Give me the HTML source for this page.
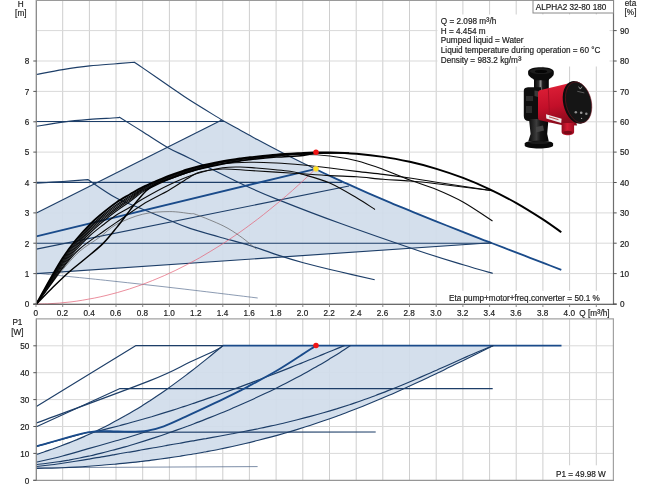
<!DOCTYPE html>
<html lang="en"><head><meta charset="utf-8"><title>ALPHA2 32-80 180</title>
<style>html,body{margin:0;padding:0;background:#fff}body{width:650px;height:487px;overflow:hidden}svg{display:block}text{font-family:"Liberation Sans",Arial,sans-serif;font-size:8.2px;fill:#1c1c1c;stroke:#1c1c1c;stroke-width:0.18px}</style></head><body>
<svg width="650" height="487" viewBox="0 0 650 487">
<rect width="650" height="487" fill="#fff"/>
<path d="M62.7 0V304M89.4 0V304M116 0V304M142.7 0V304M169.4 0V304M196.1 0V304M222.8 0V304M249.4 0V304M276.1 0V304M302.8 0V304M329.5 0V304M356.2 0V304M382.8 0V304M409.5 0V304M436.2 0V304M462.9 0V304M489.6 0V304M516.2 0V304M542.9 0V304M569.6 0V304M596.3 0V304" stroke="#cecece" stroke-width="1" fill="none"/>
<path d="M36.5 273.6H613.5M36.5 243.2H613.5M36.5 212.9H613.5M36.5 182.5H613.5M36.5 152.1H613.5M36.5 121.8H613.5M36.5 91.4H613.5M36.5 61H613.5M36.5 30.6H613.5" stroke="#d9d9d9" stroke-width="1" fill="none"/>
<path d="M62.7 319V480.3M89.4 319V480.3M116 319V480.3M142.7 319V480.3M169.4 319V480.3M196.1 319V480.3M222.8 319V480.3M249.4 319V480.3M276.1 319V480.3M302.8 319V480.3M329.5 319V480.3M356.2 319V480.3M382.8 319V480.3M409.5 319V480.3M436.2 319V480.3M462.9 319V480.3M489.6 319V480.3M516.2 319V480.3M542.9 319V480.3M569.6 319V480.3M596.3 319V480.3" stroke="#cecece" stroke-width="1" fill="none"/>
<path d="M36.5 453.4H613.5M36.5 426.5H613.5M36.5 399.6H613.5M36.5 372.7H613.5M36.5 345.8H613.5" stroke="#d9d9d9" stroke-width="1" fill="none"/>
<path d="M36.4 212.9 L221.8 119.9 L221.8 119.9 C224 121.1 229.1 124 235 127.3 C240.9 130.5 249.8 135.6 257.3 139.6 C264.7 143.6 272.1 147.5 279.5 151.3 C287 155.1 294.4 158.8 301.8 162.5 C309.2 166.1 316.7 169.7 324.1 173.2 C331.5 176.7 338.9 180.1 346.4 183.4 C353.8 186.8 361.2 190.1 368.6 193.3 C376.1 196.5 383.5 199.7 390.9 202.8 C398.3 206 405.8 209 413.2 212.1 C420.6 215.1 428 218.1 435.5 221.1 C442.9 224 450.3 227 457.7 229.9 C465.2 232.8 474.4 236.4 480 238.6 C485.6 240.7 489.6 242.3 491.5 243 L36.4 273.6Z" fill="#d0dcea" fill-opacity="0.92" stroke="none"/>
<path d="M36.4 454.5 C37.8 454.1 41.8 452.7 44.5 451.8 C47.2 450.9 49.9 449.9 52.6 449 C55.3 448 58 447 60.7 446 C63.4 445 66.1 444 68.9 442.9 C71.6 441.8 74.3 440.7 77 439.6 C79.7 438.4 82.4 437.3 85.1 436.1 C87.8 434.9 90.5 433.7 93.2 432.4 C95.9 431.1 98.6 429.8 101.3 428.5 C104 427.2 106.7 425.8 109.4 424.4 C112.1 423 114.8 421.6 117.5 420.1 C120.2 418.6 122.9 417.1 125.6 415.6 C128.3 414 131.1 412.4 133.8 410.8 C136.5 409.2 139.2 407.6 141.9 405.9 C144.6 404.2 147.3 402.4 150 400.7 C152.7 398.9 155.4 397.1 158.1 395.3 C160.8 393.5 163.5 391.6 166.2 389.7 C168.9 387.8 171.6 385.9 174.3 383.9 C177 381.9 179.7 379.9 182.4 377.9 C185.1 375.9 187.8 373.8 190.5 371.8 C193.3 369.7 196 367.6 198.7 365.4 C201.4 363.3 204.1 361.1 206.8 358.9 C209.5 356.8 212.2 354.6 214.9 352.3 C217.6 350.1 221.6 346.7 223 345.6 L493.5 345.6 L493.5 345.6 C491.3 346.7 484.8 349.9 480.4 352 C476.1 354.1 471.7 356.3 467.4 358.4 C463 360.6 458.7 362.7 454.3 364.8 C450 367 445.6 369.1 441.3 371.2 C436.9 373.3 432.6 375.4 428.2 377.4 C423.8 379.5 419.5 381.5 415.1 383.5 C410.8 385.5 406.4 387.5 402.1 389.5 C397.7 391.4 393.4 393.4 389 395.3 C384.7 397.1 380.3 399 376 400.8 C371.6 402.6 367.3 404.4 362.9 406.2 C358.5 407.9 354.2 409.6 349.8 411.3 C345.5 413 341.1 414.6 336.8 416.2 C332.4 417.8 328.1 419.3 323.7 420.8 C319.4 422.3 315 423.8 310.7 425.2 C306.3 426.6 302 428 297.6 429.4 C293.2 430.7 288.9 432 284.5 433.3 C280.2 434.5 275.8 435.7 271.5 436.9 C267.1 438.1 262.8 439.2 258.4 440.3 C254.1 441.4 249.7 442.5 245.4 443.5 C241 444.5 236.7 445.5 232.3 446.5 C227.9 447.4 223.6 448.3 219.2 449.2 C214.9 450.1 210.5 450.9 206.2 451.7 C201.8 452.5 197.5 453.3 193.1 454 C188.8 454.8 184.4 455.5 180.1 456.2 C175.7 456.9 171.4 457.5 167 458.1 C162.6 458.7 158.3 459.3 153.9 459.9 C149.6 460.5 145.2 461 140.9 461.5 C136.5 462 132.2 462.5 127.8 462.9 C123.5 463.4 119.1 463.8 114.8 464.2 C110.4 464.6 106.1 465 101.7 465.3 C97.3 465.6 93 466 88.6 466.3 C84.3 466.6 79.9 466.8 75.6 467.1 C71.2 467.3 66.9 467.5 62.5 467.7 C58.2 467.9 53.8 468.1 49.5 468.2 C45.1 468.3 38.6 468.4 36.4 468.5Z" fill="#d0dcea" fill-opacity="0.92" stroke="none"/>
<path d="M36.4 74.5 C40.8 73.7 53.9 71 62.8 69.6 C71.7 68.2 80.8 66.9 89.7 65.9 C98.6 64.9 108.9 64.3 116.3 63.7 C123.7 63.1 131.3 62.5 134.3 62.2 L134.3 62.2 C135.7 63.2 136.9 63.9 142.7 67.9 C148.5 71.9 161.4 80.8 169.3 86.2 C177.2 91.6 181.2 94.7 190 100.3 C198.8 105.9 216.5 116.6 221.8 119.9" fill="none" stroke="#1d3e68" stroke-width="1.15" stroke-linejoin="round" />
<path d="M221.8 119.9 C224 121.1 229.1 124 235 127.3 C240.9 130.5 249.8 135.6 257.3 139.6 C264.7 143.6 272.1 147.5 279.5 151.3 C287 155.1 295.7 159.5 301.8 162.5 C307.9 165.5 313.6 168.2 316 169.3" fill="none" stroke="#1d3e68" stroke-width="1.15" stroke-linejoin="round" />
<path d="M316 169.3 C317.3 170 319 170.8 324.1 173.2 C329.2 175.5 338.9 180.1 346.4 183.4 C353.8 186.8 361.2 190.1 368.6 193.3 C376.1 196.5 383.5 199.7 390.9 202.8 C398.3 206 405.8 209 413.2 212.1 C420.6 215.1 428 218.1 435.5 221.1 C442.9 224 450.3 227 457.7 229.9 C465.2 232.8 474.4 236.4 480 238.6 C485.6 240.7 489.6 242.3 491.5 243 L491.5 243 C494.6 244.2 503.6 247.6 510 250.1 C516.4 252.6 523.3 255.2 530 257.8 C536.7 260.3 544.8 263.4 550 265.5 C555.2 267.5 559.4 269.1 561.3 269.8" fill="none" stroke="#1a4b8a" stroke-width="1.8" stroke-linejoin="round" />
<path d="M36.4 126.3 C40.8 125.6 53.9 123.2 62.8 122.1 C71.7 120.9 80.8 120.1 89.7 119.4 C98.6 118.7 111.3 118.1 116.3 117.7 C121.3 117.3 119 117.3 119.5 117.2 L119.5 117.2 C123.4 119.6 134.6 126.7 142.7 131.8 C150.8 136.9 160.1 143.3 168 147.7 C175.9 152.1 177.3 152.2 190 158.4 C202.7 164.6 229.2 178.1 244 185 C258.8 191.9 262.6 193.5 278.6 199.9 C294.6 206.3 316.4 214.8 340 223.3 C363.6 231.9 399.5 244.3 420 251.2 C440.5 258.1 451 261.1 463.1 264.8 C475.2 268.5 487.8 272 492.7 273.4" fill="none" stroke="#1d3e68" stroke-width="1.15" stroke-linejoin="round" />
<path d="M36.4 183.3 C40.8 183 54.2 182.1 62.8 181.5 C71.4 180.9 83.7 179.9 87.9 179.6 L87.9 179.6 C92.6 182.7 107.2 193.2 116.3 198.1 C125.4 203 133.9 205.5 142.7 209.2 C151.5 212.9 161.4 217.1 169.3 220.3 C177.2 223.5 181.1 225.5 190 228.4 C198.9 231.3 213 235.2 223 238 C233 240.8 240.9 242.7 249.8 245.5 C258.7 248.3 267.5 251.7 276.4 254.6 C285.3 257.5 292.7 259.8 303.3 262.7 C313.9 265.6 328.1 269 340 271.8 C351.9 274.6 368.9 278.4 374.7 279.7" fill="none" stroke="#1d3e68" stroke-width="1.15" stroke-linejoin="round" />
<path d="M36.4 273.2 C48.7 274.5 86.1 278.2 110 280.8 C133.9 283.4 155.4 285.7 180 288.6 C204.6 291.5 244.8 296.4 257.7 298" fill="none" stroke="#5a7090" stroke-width="0.7" stroke-linejoin="round" />
<path d="M36.4 121.5 L224.5 121.5" fill="none" stroke="#1d3e68" stroke-width="1.15" stroke-linejoin="round" />
<path d="M36.4 182.3 L342 182.3" fill="none" stroke="#1d3e68" stroke-width="1.15" stroke-linejoin="round" />
<path d="M36.4 243.2 L491.5 243.2" fill="none" stroke="#1d3e68" stroke-width="1.15" stroke-linejoin="round" />
<path d="M36.4 212.9 L221.8 119.9" fill="none" stroke="#1d3e68" stroke-width="1.15" stroke-linejoin="round" />
<path d="M36.4 249.1 L349 186" fill="none" stroke="#1d3e68" stroke-width="1.15" stroke-linejoin="round" />
<path d="M36.4 273.6 L491.5 242.8" fill="none" stroke="#1d3e68" stroke-width="1.15" stroke-linejoin="round" />
<path d="M36.4 236.3 L316 168.8" fill="none" stroke="#1a4b8a" stroke-width="1.8" stroke-linejoin="round" />
<path d="M36 304 C37.9 304 43.8 303.9 47.7 303.8 C51.5 303.6 55.4 303.4 59.3 303.1 C63.2 302.7 67.1 302.4 71 301.9 C74.9 301.4 78.8 300.9 82.6 300.2 C86.5 299.6 90.4 298.9 94.3 298.1 C98.2 297.3 102.1 296.5 106 295.5 C109.9 294.6 113.7 293.6 117.6 292.5 C121.5 291.4 125.4 290.2 129.3 289 C133.2 287.7 137.1 286.4 141 285 C144.8 283.6 148.7 282.1 152.6 280.5 C156.5 278.9 160.4 277.3 164.3 275.6 C168.2 273.9 172 272.1 175.9 270.2 C179.8 268.3 183.7 266.3 187.6 264.3 C191.5 262.3 195.4 260.2 199.3 258 C203.1 255.8 207 253.5 210.9 251.1 C214.8 248.8 218.7 246.4 222.6 243.9 C226.5 241.4 230.4 238.8 234.2 236.1 C238.1 233.5 242 230.7 245.9 227.9 C249.8 225.1 253.7 222.2 257.6 219.2 C261.5 216.2 265.3 213.2 269.2 210 C273.1 206.9 277 203.7 280.9 200.4 C284.8 197.1 288.7 193.8 292.6 190.3 C296.4 186.9 300.3 183.3 304.2 179.7 C308.1 176.1 313.9 170.5 315.9 168.7" fill="none" stroke="#e4687c" stroke-width="0.75" stroke-linejoin="round" />
<path d="M36.4 304 C38.7 301 45.6 291.8 50 286 C54.4 280.2 57.8 275.3 62.8 269.5 C67.8 263.7 73.8 256.4 80 251 C86.2 245.6 94 241.4 100 237 C106 232.6 109.2 228.3 116.3 224.5 C123.4 220.7 133.9 216.3 142.7 214.2 C151.5 212 161.4 211.7 169.3 211.6 C177.2 211.5 185.5 213.1 190 213.6 C194.5 214.1 191 212.7 196.5 214.7 C202 216.7 216 222.3 223.1 225.8 C230.2 229.3 234.8 232.6 239.2 235.6 C243.6 238.6 246.9 241.4 249.8 243.7 C252.7 246 255.3 248.3 256.4 249.2" fill="none" stroke="#606060" stroke-width="0.7" stroke-linejoin="round" />
<path d="M36.4 304 C38.7 300.1 45.6 288.1 50 280.7 C54.4 273.3 58.5 266.2 62.8 259.7 C67.1 253.3 71.5 247.4 76 242 C80.5 236.6 85 231.5 89.5 227 C94 222.6 98.5 218.8 103 215 C107.5 211.3 111.9 207.8 116.4 204.7 C120.9 201.6 125.6 198.9 130 196.2 C134.4 193.5 138.4 190.7 142.7 188.4 C147 186.1 151.6 184.2 156 182.3 C160.4 180.3 164.8 178.3 169.3 176.5 C173.8 174.8 178.5 173.2 183 171.7 C187.5 170.2 189.7 169.3 196.3 167.6 C202.9 166 215.4 163.4 222.7 161.9 C230 160.5 235.5 159.9 240 159.2 C244.5 158.5 248.1 158.1 249.8 158 C251.5 157.8 245.6 158.8 250 158.5 C254.4 158.2 267.2 156.6 276 155.9 C284.8 155.2 294 154.5 303 154.5 C312 154.5 321.1 154.9 330 156 C338.9 157.1 347.7 158.6 356.6 160.8 C365.5 163 374.3 166.2 383.2 169.4 C392.1 172.6 400.9 176.7 409.8 180 C418.7 183.3 427.6 185.8 436.5 189.5 C445.4 193.2 453.7 196.8 463 202 C472.3 207.2 487.6 217.8 492.5 221" fill="none" stroke="#0a0a0a" stroke-width="1.1" stroke-linejoin="round" />
<path d="M36.4 304 C38.7 300.2 45.6 288.7 50 281.5 C54.4 274.3 58.5 267.3 62.8 261 C67.1 254.6 71.5 248.8 76 243.4 C80.5 238 85 233 89.5 228.5 C94 224 98.5 220.2 103 216.5 C107.5 212.7 111.9 209.3 116.4 206.1 C120.9 202.9 125.6 200.2 130 197.4 C134.4 194.5 138.4 191.6 142.7 189.2 C147 186.8 151.6 184.9 156 182.9 C160.4 180.9 164.8 178.9 169.3 177.1 C173.8 175.4 178.5 173.8 183 172.3 C187.5 170.8 189.7 169.8 196.3 168.2 C202.9 166.5 215.4 163.8 222.7 162.4 C230 161 235.5 160.3 240 159.6 C244.5 159 248.1 158.6 249.8 158.4 C251.5 158.1 245.6 158.7 250 158.2 C254.4 157.7 267.5 156.1 276.4 155.3 C285.3 154.5 292.4 153.9 303.3 153.4 C314.2 152.9 335.6 152.7 342 152.6" fill="none" stroke="#0a0a0a" stroke-width="1.1" stroke-linejoin="round" />
<path d="M36.4 304 C38.7 300.4 45.6 289.3 50 282.4 C54.4 275.4 58.5 268.6 62.8 262.4 C67.1 256.1 71.5 250.4 76 245 C80.5 239.6 85 234.6 89.5 230.1 C94 225.6 98.5 221.8 103 218.1 C107.5 214.4 111.9 210.9 116.4 207.7 C120.9 204.5 125.6 201.7 130 198.7 C134.4 195.8 138.4 192.6 142.7 190.1 C147 187.6 151.6 185.7 156 183.7 C160.4 181.7 164.8 179.6 169.3 177.8 C173.8 176 178.4 174.4 183 172.9 C187.6 171.4 190.1 170.2 196.8 168.7 C203.5 167.2 214.3 164.9 223.1 163.8 C231.9 162.7 240.9 162.4 249.8 162.3 C258.7 162.2 267.5 162.6 276.4 163 C285.3 163.4 294.4 164.2 303.3 165 C312.2 165.8 321.1 166.9 330 168 C338.9 169.1 347.7 170.3 356.6 171.4 C365.5 172.5 374.3 173.3 383.2 174.4 C392.1 175.5 400.9 176.7 409.8 178 C418.7 179.3 422.7 180.2 436.5 182.3 C450.3 184.4 483.3 189.3 492.7 190.7" fill="none" stroke="#0a0a0a" stroke-width="1.1" stroke-linejoin="round" />
<path d="M36.4 304 C38.7 300.5 45.6 289.9 50 283.2 C54.4 276.5 58.5 269.9 62.8 263.8 C67.1 257.7 71.5 251.9 76 246.6 C80.5 241.3 85 236.2 89.5 231.7 C94 227.3 98.5 223.5 103 219.7 C107.5 216 111.9 212.6 116.4 209.3 C120.9 206 125.6 203.1 130 200.1 C134.4 197 138.4 193.5 142.7 190.9 C147 188.3 151.6 186.5 156 184.5 C160.4 182.4 164.8 180.3 169.3 178.5 C173.8 176.7 178.5 175.1 183 173.6 C187.5 172 189.7 171.1 196.3 169.4 C202.9 167.7 215.4 165 222.7 163.5 C230 162.1 235.5 161.3 240 160.6 C244.5 159.9 248.1 159.6 249.8 159.3 C251.5 159.1 245.6 159.6 250 159 C254.4 158.4 267.5 156.8 276.4 156 C285.3 155.2 291.2 154.5 303.3 154 C315.4 153.5 341.4 153 349 152.8" fill="none" stroke="#0a0a0a" stroke-width="1.1" stroke-linejoin="round" />
<path d="M36.4 304 C38.7 300.7 45.6 290.6 50 284.2 C54.4 277.7 58.5 271.3 62.8 265.3 C67.1 259.3 71.5 253.6 76 248.3 C80.5 243 85 237.9 89.5 233.5 C94 229 98.5 225.2 103 221.5 C107.5 217.7 111.9 214.3 116.4 211 C120.9 207.7 125.6 204.7 130 201.5 C134.4 198.3 138.4 194.6 142.7 191.9 C147 189.2 151.6 187.4 156 185.3 C160.4 183.2 164.8 181.1 169.3 179.3 C173.8 177.4 178.5 175.8 183 174.2 C187.5 172.7 189.8 172.2 196.3 170 C202.8 167.9 217.6 162.8 221.8 161.4" fill="none" stroke="#0a0a0a" stroke-width="1.1" stroke-linejoin="round" />
<path d="M36.4 304 C38.7 300.8 45.6 291.2 50 285 C54.4 278.8 58.5 272.8 62.8 267 C67.1 261.2 71.5 255.2 76 250 C80.5 244.8 85 240.2 89.5 236 C94 231.8 98.5 228.5 103 225 C107.5 221.5 111.9 217.9 116.4 215 C120.9 212.1 125.6 210 130 207.3 C134.4 204.6 136.1 202.8 142.7 199 C149.2 195.2 160.4 188.9 169.3 184.7 C178.2 180.5 187.4 176.5 196.3 173.7 C205.2 170.9 215.4 168.9 222.7 167.8 C230 166.7 234.4 167 240 167 C245.6 167 247.7 167.3 256 168 C264.3 168.7 282.1 170.2 290 171.3 C297.9 172.4 296.7 172.6 303.3 174.5 C309.9 176.4 320.8 179.1 329.7 183 C338.6 186.9 349.1 193.4 356.6 197.8 C364.2 202.2 371.9 207.6 375 209.5" fill="none" stroke="#0a0a0a" stroke-width="1.1" stroke-linejoin="round" />
<path d="M36.4 304 C38.7 300.9 45.6 291.5 50 285.5 C54.4 279.5 58 274 62.8 268 C67.6 262 72.1 255.7 79 249.5 C85.9 243.3 97.2 235.9 104 231 C110.8 226.1 113.5 224.4 120 220 C126.5 215.6 134.5 209.5 142.7 204.5 C150.9 199.5 161.4 194.6 169.3 190 C177.2 185.4 184.7 180 190 177 C195.3 174 195.6 173.1 201 171.8 C206.4 170.5 214.5 169.2 222.7 169 C230.9 168.8 238.8 169.8 250 170.5 C261.2 171.2 276.7 172.2 290 173 C303.3 173.8 318.6 175 329.7 175.6 C340.8 176.2 347.7 176.2 356.6 176.8 C365.5 177.4 374.3 178.6 383.2 179.3 C392.1 180 400.9 180.3 409.8 181 C418.7 181.7 422.7 182.1 436.5 183.7 C450.3 185.3 483.3 189.6 492.7 190.7" fill="none" stroke="#0a0a0a" stroke-width="1.1" stroke-linejoin="round" />
<path d="M36.4 304 C39 301.4 46.6 293.4 52 288.2 C57.4 282.9 63 277.4 68.5 272.5 C74 267.6 79.1 263.9 84.9 259 C90.7 254.1 98.1 248.4 103.4 243.1 C108.8 237.8 112.7 232.4 117 227.1 C121.3 221.8 125.8 215.6 129.3 211.1 C132.8 206.6 135.1 203.3 137.9 200 C140.7 196.7 143 193.7 146 191 C149 188.3 152.1 186 156 184 C159.9 182 164.8 180.7 169.3 179 C173.8 177.4 178.5 175.6 183 174 C187.5 172.5 189.7 171.5 196.3 169.8 C202.9 168.2 215.4 165.4 222.7 163.9 C230 162.4 235.5 161.7 240 161 C244.5 160.3 243.7 160.4 249.8 159.7 C255.9 159 267.5 157.8 276.4 157.1 C285.3 156.4 296.7 156.2 303.3 155.4 C309.9 154.6 313.9 153 316 152.5" fill="none" stroke="#000" stroke-width="1.5" stroke-linejoin="round" />
<path d="M36.4 304 C38.7 299.9 45.6 287.2 50 279.5 C54.4 271.8 58.5 264.4 62.8 257.8 C67.1 251.2 71.5 245.3 76 239.8 C80.5 234.3 85 229.3 89.5 224.8 C94 220.3 98.5 216.5 103 212.8 C107.5 209.1 111.9 205.6 116.4 202.5 C120.9 199.4 125.6 196.9 130 194.3 C134.4 191.8 138.4 189.4 142.7 187.2 C147 185 151.6 183.1 156 181.2 C160.4 179.3 164.8 177.3 169.3 175.6 C173.8 173.9 178.5 172.3 183 170.8 C187.5 169.3 189.7 168.4 196.3 166.8 C202.9 165.2 215.4 162.6 222.7 161.2 C230 159.8 235.5 159.2 240 158.5 C244.5 157.8 243.7 157.9 249.8 157.3 C255.9 156.7 267.5 155.4 276.4 154.7 C285.3 154 296.7 153.4 303.3 153 C309.9 152.6 311.6 152.6 316 152.5 C320.4 152.4 323.2 152.3 330 152.5 C336.8 152.7 347.7 153.1 356.6 153.8 C365.5 154.6 374.3 155.6 383.2 156.9 C392.1 158.2 400.9 159.9 409.8 161.8 C418.7 163.8 427.6 166.1 436.5 168.8 C445.4 171.5 454.2 174.5 463.1 177.9 C472 181.3 480.9 185.1 489.8 189.3 C498.7 193.5 507.5 198.1 516.4 203.1 C525.3 208.2 535.8 214.8 543.3 219.6 C550.8 224.5 558.3 230.1 561.3 232.2" fill="none" stroke="#000" stroke-width="1.9" stroke-linejoin="round" />
<path d="M36.4 406.5 L136 345.6 L223 345.6" fill="none" stroke="#1d3e68" stroke-width="1.15" stroke-linejoin="round" />
<path d="M223 345.6 H561.5" fill="none" stroke="#1a4b8a" stroke-width="1.8" stroke-linejoin="round" />
<path d="M36.4 426.7 L120 388.6 L492.7 388.6" fill="none" stroke="#1d3e68" stroke-width="1.15" stroke-linejoin="round" />
<path d="M36.4 446.4 L88 432.2 L375.7 432" fill="none" stroke="#1d3e68" stroke-width="1.15" stroke-linejoin="round" />
<path d="M36.4 467.7 L257.6 466.6" fill="none" stroke="#5a7090" stroke-width="0.8" stroke-linejoin="round" />
<path d="M36.4 423 C55.3 415.9 124.4 390.8 150 380.6 C175.6 370.5 178.9 367.2 190 362.1 C201.1 357 211.1 352.6 216.6 349.8 C222.1 347.1 221.9 346.3 223 345.6" fill="none" stroke="#1d3e68" stroke-width="1.15" stroke-linejoin="round" />
<path d="M36.4 454.5 C37.8 454.1 41.8 452.7 44.5 451.8 C47.2 450.9 49.9 449.9 52.6 449 C55.3 448 58 447 60.7 446 C63.4 445 66.1 444 68.9 442.9 C71.6 441.8 74.3 440.7 77 439.6 C79.7 438.4 82.4 437.3 85.1 436.1 C87.8 434.9 90.5 433.7 93.2 432.4 C95.9 431.1 98.6 429.8 101.3 428.5 C104 427.2 106.7 425.8 109.4 424.4 C112.1 423 114.8 421.6 117.5 420.1 C120.2 418.6 122.9 417.1 125.6 415.6 C128.3 414 131.1 412.4 133.8 410.8 C136.5 409.2 139.2 407.6 141.9 405.9 C144.6 404.2 147.3 402.4 150 400.7 C152.7 398.9 155.4 397.1 158.1 395.3 C160.8 393.5 163.5 391.6 166.2 389.7 C168.9 387.8 171.6 385.9 174.3 383.9 C177 381.9 179.7 379.9 182.4 377.9 C185.1 375.9 187.8 373.8 190.5 371.8 C193.3 369.7 196 367.6 198.7 365.4 C201.4 363.3 204.1 361.1 206.8 358.9 C209.5 356.8 212.2 354.6 214.9 352.3 C217.6 350.1 221.6 346.7 223 345.6" fill="none" stroke="#1d3e68" stroke-width="1.15" stroke-linejoin="round" />
<path d="M98 431 C99.8 430.6 105.1 429.3 108.7 428.4 C112.3 427.5 115.9 426.6 119.4 425.7 C123 424.7 126.6 423.8 130.1 422.8 C133.7 421.8 137.3 420.8 140.9 419.8 C144.4 418.8 148 417.7 151.6 416.7 C155.1 415.6 158.7 414.5 162.3 413.4 C165.8 412.3 169.4 411.2 173 410.1 C176.6 409 180.1 407.8 183.7 406.6 C187.3 405.5 190.8 404.3 194.4 403.1 C198 401.9 201.6 400.7 205.1 399.4 C208.7 398.2 212.3 396.9 215.8 395.7 C219.4 394.4 223 393.1 226.6 391.8 C230.1 390.5 233.7 389.2 237.3 387.9 C240.8 386.6 244.4 385.3 248 383.9 C251.6 382.6 255.1 381.2 258.7 379.9 C262.3 378.5 265.8 377.1 269.4 375.8 C273 374.4 276.6 373 280.1 371.6 C283.7 370.2 287.3 368.8 290.8 367.4 C294.4 365.9 298 364.5 301.5 363.1 C305.1 361.6 308.7 360.2 312.3 358.8 C315.8 357.3 319.4 355.9 323 354.4 C326.5 352.9 330.1 351.5 333.7 350 C337.3 348.5 342.6 346.3 344.4 345.6" fill="none" stroke="#1d3e68" stroke-width="1.15" stroke-linejoin="round" />
<path d="M36.4 462.2 C40.8 461.2 53.8 458.3 62.6 456 C71.4 453.7 80.4 450.9 89.3 448.4 C98.2 445.9 109.9 442.5 116 440.8 C122.1 439.1 121.5 439.3 126 438 C130.5 436.7 138.8 434.1 142.8 432.8 C146.8 431.6 148.8 430.9 150 430.5" fill="none" stroke="#1d3e68" stroke-width="1.15" stroke-linejoin="round" />
<path d="M36.4 464.5 C38.2 464.3 43.6 463.8 47.2 463.3 C50.8 462.9 54.5 462.4 58.1 461.8 C61.7 461.3 65.3 460.7 68.9 460.1 C72.5 459.4 76.1 458.7 79.7 458 C83.3 457.3 86.9 456.5 90.6 455.7 C94.2 454.9 97.8 454 101.4 453.1 C105 452.2 108.6 451.3 112.2 450.3 C115.8 449.4 119.4 448.4 123 447.4 C126.7 446.4 130.3 445.3 133.9 444.2 C137.5 443.1 141.1 442 144.7 440.9 C148.3 439.7 151.9 438.6 155.5 437.4 C159.2 436.2 162.8 435 166.4 433.7 C170 432.5 173.6 431.2 177.2 429.9 C180.8 428.6 184.4 427.3 188 426 C191.6 424.6 195.3 423.3 198.9 421.9 C202.5 420.5 206.1 419.1 209.7 417.6 C213.3 416.2 216.9 414.7 220.5 413.3 C224.1 411.8 227.7 410.3 231.4 408.7 C235 407.2 238.6 405.6 242.2 404 C245.8 402.4 249.4 400.8 253 399.2 C256.6 397.5 260.2 395.8 263.9 394.1 C267.5 392.4 271.1 390.7 274.7 388.9 C278.3 387.1 281.9 385.3 285.5 383.5 C289.1 381.6 292.7 379.7 296.3 377.8 C300 375.9 303.6 373.9 307.2 371.9 C310.8 369.9 314.4 367.9 318 365.8 C321.6 363.7 325.2 361.6 328.8 359.4 C332.4 357.2 336.1 355 339.7 352.7 C343.3 350.4 348.7 346.8 350.5 345.6" fill="none" stroke="#1d3e68" stroke-width="1.15" stroke-linejoin="round" />
<path d="M36.4 466.5 C38.6 466.3 45.1 465.6 49.4 465 C53.8 464.5 58.1 463.9 62.5 463.3 C66.8 462.6 71.2 462 75.5 461.3 C79.9 460.6 84.2 459.9 88.6 459.1 C92.9 458.4 97.3 457.7 101.6 456.9 C106 456.2 110.3 455.4 114.7 454.6 C119 453.9 123.4 453.1 127.7 452.3 C132.1 451.6 136.4 450.8 140.8 450 C145.1 449.2 149.5 448.5 153.8 447.7 C158.2 447 162.5 446.2 166.9 445.4 C171.2 444.7 175.6 443.9 179.9 443.2 C184.3 442.4 188.6 441.6 192.9 440.9 C197.3 440.1 201.6 439.3 206 438.6 C210.3 437.8 214.7 437 219 436.2 C223.4 435.4 227.7 434.6 232.1 433.8 C236.4 433 240.8 432.2 245.1 431.3 C249.5 430.5 253.8 429.6 258.2 428.7 C262.5 427.8 266.9 426.9 271.2 425.9 C275.6 425 279.9 424 284.3 423 C288.6 422 293 420.9 297.3 419.8 C301.7 418.7 306 417.6 310.4 416.4 C314.7 415.3 319.1 414.1 323.4 412.8 C327.8 411.5 332.1 410.2 336.5 408.9 C340.8 407.5 345.1 406.1 349.5 404.7 C353.8 403.2 358.2 401.8 362.5 400.2 C366.9 398.7 371.2 397.1 375.6 395.5 C379.9 393.8 384.3 392.2 388.6 390.4 C393 388.7 397.3 387 401.7 385.2 C406 383.4 410.4 381.5 414.7 379.7 C419.1 377.8 423.4 375.9 427.8 374 C432.1 372.1 436.5 370.2 440.8 368.2 C445.2 366.3 449.5 364.4 453.9 362.4 C458.2 360.5 462.6 358.5 466.9 356.6 C471.3 354.7 475.6 352.8 480 351 C484.3 349.2 490.8 346.5 493 345.6" fill="none" stroke="#1d3e68" stroke-width="1.15" stroke-linejoin="round" />
<path d="M36.4 468.5 C38.6 468.4 45.1 468.3 49.5 468.2 C53.8 468.1 58.2 467.9 62.5 467.7 C66.9 467.5 71.2 467.3 75.6 467.1 C79.9 466.8 84.3 466.6 88.6 466.3 C93 466 97.3 465.6 101.7 465.3 C106.1 465 110.4 464.6 114.8 464.2 C119.1 463.8 123.5 463.4 127.8 462.9 C132.2 462.5 136.5 462 140.9 461.5 C145.2 461 149.6 460.5 153.9 459.9 C158.3 459.3 162.6 458.7 167 458.1 C171.4 457.5 175.7 456.9 180.1 456.2 C184.4 455.5 188.8 454.8 193.1 454 C197.5 453.3 201.8 452.5 206.2 451.7 C210.5 450.9 214.9 450.1 219.2 449.2 C223.6 448.3 227.9 447.4 232.3 446.5 C236.7 445.5 241 444.5 245.4 443.5 C249.7 442.5 254.1 441.4 258.4 440.3 C262.8 439.2 267.1 438.1 271.5 436.9 C275.8 435.7 280.2 434.5 284.5 433.3 C288.9 432 293.2 430.7 297.6 429.4 C302 428 306.3 426.6 310.7 425.2 C315 423.8 319.4 422.3 323.7 420.8 C328.1 419.3 332.4 417.8 336.8 416.2 C341.1 414.6 345.5 413 349.8 411.3 C354.2 409.6 358.5 407.9 362.9 406.2 C367.3 404.4 371.6 402.6 376 400.8 C380.3 399 384.7 397.1 389 395.3 C393.4 393.4 397.7 391.4 402.1 389.5 C406.4 387.5 410.8 385.5 415.1 383.5 C419.5 381.5 423.8 379.5 428.2 377.4 C432.6 375.4 436.9 373.3 441.3 371.2 C445.6 369.1 450 367 454.3 364.8 C458.7 362.7 463 360.6 467.4 358.4 C471.7 356.3 476.1 354.1 480.4 352 C484.8 349.9 491.3 346.7 493.5 345.6" fill="none" stroke="#1d3e68" stroke-width="1.15" stroke-linejoin="round" />
<path d="M36.4 446.4 C45 444.1 74.7 434.9 88 432.4 C101.3 429.9 109.4 431.6 116.4 431.5 C123.4 431.4 124.8 431.9 130 431.8 C135.2 431.7 142.1 431.5 147.7 430.6 C153.3 429.7 157.5 428.6 163.8 426.3 C170.2 424 177.3 420.5 185.8 416.6 C194.3 412.8 205.6 407.5 214.6 403.2 C223.6 398.9 234 393.7 239.8 390.8 C245.6 387.9 243.5 389 249.6 385.7 C255.7 382.4 267.8 375.9 276.2 371 C284.6 366.1 293.4 360.2 300 356 C306.6 351.8 313.3 347.3 316 345.6" fill="none" stroke="#1a4b8a" stroke-width="1.9" stroke-linejoin="round" />
<rect x="437.5" y="14.5" width="172" height="52" fill="#fff"/>
<rect x="446" y="290.8" width="166.7" height="12.8" fill="#fff"/>
<rect x="552" y="465.3" width="60.7" height="14.4" fill="#fff"/>
<path d="M36.3 0V304.5" stroke="#848484" stroke-width="1.25" fill="none"/>
<path d="M613.5 0V304.5" stroke="#6e6e6e" stroke-width="1.2" fill="none"/>
<path d="M36 0.4H614" stroke="#9a9a9a" stroke-width="1.2" fill="none"/>
<path d="M33.2 304.3H616.7" stroke="#3a3a3a" stroke-width="1.05" fill="none"/>
<path d="M36.3 318.5V480.8" stroke="#848484" stroke-width="1.25" fill="none"/>
<path d="M613.4 318.5V480.8M36 318.9H614" stroke="#a2a2a2" stroke-width="1.2" fill="none"/>
<path d="M33.2 480.4H614" stroke="#969696" stroke-width="1.2" fill="none"/>
<path d="M33.3 304H36.5M33.3 273.6H36.5M33.3 243.2H36.5M33.3 212.9H36.5M33.3 182.5H36.5M33.3 152.1H36.5M33.3 121.8H36.5M33.3 91.4H36.5M33.3 61H36.5M613.5 304H616.7M613.5 273.6H616.7M613.5 243.2H616.7M613.5 212.9H616.7M613.5 182.5H616.7M613.5 152.1H616.7M613.5 121.8H616.7M613.5 91.4H616.7M613.5 61H616.7M613.5 30.6H616.7M33.3 480.3H36.5M33.3 453.4H36.5M33.3 426.5H36.5M33.3 399.6H36.5M33.3 372.7H36.5M33.3 345.8H36.5" stroke="#555" stroke-width="1" fill="none"/>
<path d="M36 304.5V307M62.7 304.5V307M89.4 304.5V307M116 304.5V307M142.7 304.5V307M169.4 304.5V307M196.1 304.5V307M222.8 304.5V307M249.4 304.5V307M276.1 304.5V307M302.8 304.5V307M329.5 304.5V307M356.2 304.5V307M382.8 304.5V307M409.5 304.5V307M436.2 304.5V307M462.9 304.5V307M489.6 304.5V307M516.2 304.5V307M542.9 304.5V307M569.6 304.5V307M596.3 304.5V307" stroke="#8c8c8c" stroke-width="1" fill="none"/>
<circle cx="316" cy="152.3" r="2.75" fill="#f01414"/>
<circle cx="316" cy="168.8" r="2.6" fill="#ffe21c" stroke="#f2cf6a" stroke-width="0.7"/>
<circle cx="316" cy="345.6" r="2.75" fill="#f01414"/>
<g text-anchor="end">
<text x="29.4" y="307.3">0</text>
<text x="29.4" y="276.9">1</text>
<text x="29.4" y="246.6">2</text>
<text x="29.4" y="216.2">3</text>
<text x="29.4" y="185.8">4</text>
<text x="29.4" y="155.4">5</text>
<text x="29.4" y="125">6</text>
<text x="29.4" y="94.7">7</text>
<text x="29.4" y="64.3">8</text>
<text x="29.4" y="483.6">0</text>
<text x="29.4" y="456.7">10</text>
<text x="29.4" y="429.8">20</text>
<text x="29.4" y="402.9">30</text>
<text x="29.4" y="376">40</text>
<text x="29.4" y="349.1">50</text>
</g>
<g text-anchor="start">
<text x="620" y="307.3">0</text>
<text x="620" y="276.9">10</text>
<text x="620" y="246.6">20</text>
<text x="620" y="216.2">30</text>
<text x="620" y="185.8">40</text>
<text x="620" y="155.4">50</text>
<text x="620" y="125">60</text>
<text x="620" y="94.7">70</text>
<text x="620" y="64.3">80</text>
<text x="620" y="33.9">90</text>
</g>
<g text-anchor="middle">
<text x="35.7" y="315.6">0</text>
<text x="62.4" y="315.6">0.2</text>
<text x="89.1" y="315.6">0.4</text>
<text x="115.7" y="315.6">0.6</text>
<text x="142.4" y="315.6">0.8</text>
<text x="169.1" y="315.6">1.0</text>
<text x="195.8" y="315.6">1.2</text>
<text x="222.5" y="315.6">1.4</text>
<text x="249.1" y="315.6">1.6</text>
<text x="275.8" y="315.6">1.8</text>
<text x="302.5" y="315.6">2.0</text>
<text x="329.2" y="315.6">2.2</text>
<text x="355.9" y="315.6">2.4</text>
<text x="382.5" y="315.6">2.6</text>
<text x="409.2" y="315.6">2.8</text>
<text x="435.9" y="315.6">3.0</text>
<text x="462.6" y="315.6">3.2</text>
<text x="489.3" y="315.6">3.4</text>
<text x="515.9" y="315.6">3.6</text>
<text x="542.6" y="315.6">3.8</text>
<text x="569.3" y="315.6">4.0</text>
<text x="20.8" y="6.6">H</text><text x="20.8" y="16">[m]</text>
<text x="17.4" y="325">P1</text><text x="17.4" y="334.5">[W]</text>
<text x="630.5" y="5.8">eta</text><text x="630.5" y="15.4">[%]</text>
</g>
<text x="579.3" y="315.6">Q [m<tspan font-size="10.4" dy="0.9">³</tspan><tspan dy="-0.9">/h]</tspan></text>
<text x="440.8" y="24">Q = 2.098 m<tspan font-size="10.4" dy="0.9">³</tspan><tspan dy="-0.9">/h</tspan></text>
<text x="440.8" y="33.6">H = 4.454 m</text>
<text x="440.8" y="43.2">Pumped liquid = Water</text>
<text x="440.8" y="52.9">Liquid temperature during operation = 60 °C</text>
<text x="440.8" y="62.6">Density = 983.2 kg/m<tspan font-size="10.4" dy="0.9">³</tspan></text>
<text x="449" y="300.6">Eta pump+motor+freq.converter = 50.1 %</text>
<text x="556" y="476.6">P1 = 49.98 W</text>
<rect x="533" y="0.5" width="80.5" height="12.5" fill="#fff" stroke="#8a8a8a" stroke-width="1"/>
<text x="535.8" y="9.7">ALPHA2 32-80 180</text>
<g id="pump">
<defs>
<linearGradient id="pr" x1="0" y1="0" x2="0.18" y2="1"><stop offset="0" stop-color="#ee4a58"/><stop offset="0.18" stop-color="#d81c34"/><stop offset="0.6" stop-color="#c20f29"/><stop offset="1" stop-color="#8a0a1c"/></linearGradient>
<linearGradient id="pk" x1="0" y1="0" x2="1" y2="0"><stop offset="0" stop-color="#080808"/><stop offset="0.3" stop-color="#2a2a2a"/><stop offset="0.45" stop-color="#8c8c8c"/><stop offset="0.58" stop-color="#1c1c1c"/><stop offset="1" stop-color="#050505"/></linearGradient>
<linearGradient id="pk2" x1="0" y1="0" x2="1" y2="0"><stop offset="0" stop-color="#080808"/><stop offset="0.4" stop-color="#3c3c3c"/><stop offset="0.6" stop-color="#161616"/><stop offset="1" stop-color="#050505"/></linearGradient>
<linearGradient id="pc" x1="0" y1="0" x2="1" y2="0"><stop offset="0" stop-color="#8e0b1d"/><stop offset="0.45" stop-color="#d41a32"/><stop offset="1" stop-color="#a00d22"/></linearGradient>
</defs>
<!-- upper neck -->
<path d="M534 78H548.8V90H534Z" fill="url(#pk)"/>
<!-- top flange -->
<path d="M528.1 71.6C528.1 65.7 553.8 65.7 553.8 71.6V73.6C553.8 76.8 549.5 78.6 548.6 80.2H534.2C533.3 78.6 528.1 76.8 528.1 73.6Z" fill="#0b0b0b"/>
<ellipse cx="541" cy="71.2" rx="11.2" ry="2.9" fill="#1c1c1c"/>
<ellipse cx="541" cy="71.5" rx="6.2" ry="1.6" fill="#050505"/>
<!-- housing -->
<path d="M523.8 91C523.8 88 526 87.3 529 87.3H541V121H529C525.5 121 523.8 119.4 523.8 116Z" fill="#0e0e0e"/>
<path d="M526 96h7v5h-7zM526 106h6v7h-6z" fill="#2c2c2c"/>
<path d="M534.5 90.5l3.5 0.5v6l-3.5-1z" fill="#3a3a3a"/>
<!-- lower neck -->
<path d="M529 119H548.5L547.2 134L548.8 141.5H528.2L530.6 134Z" fill="url(#pk2)"/>
<path d="M536 127l7-1.5 1 5-8 2z" fill="#444"/>
<!-- bottom flange -->
<path d="M524.7 143.6C524.7 139.8 553.1 139.8 553.1 143.6V145.6C553.1 149.6 524.7 149.6 524.7 145.6Z" fill="#090909"/>
<ellipse cx="539" cy="142.6" rx="10" ry="1.5" fill="#1a1a1a"/>
<!-- red motor -->
<path d="M538 93C538 91.6 538.6 90.6 539.8 90.2L568 83.4L577 125.6L561.5 125L541 120.6C539 120.2 538 119.2 538 117.4Z" fill="url(#pr)"/>
<path d="M548.3 88.4L549.8 122.4" stroke="#a30d22" stroke-width="0.9" fill="none"/>
<!-- red connector -->
<path d="M561.6 123H574.1V132C574.1 136.4 561.6 136.4 561.6 132Z" fill="url(#pc)"/>
<ellipse cx="567.9" cy="132.6" rx="4.5" ry="1.9" fill="#7a0918"/>
<!-- faceplate -->
<ellipse cx="576.8" cy="102.3" rx="13.6" ry="21.7" transform="rotate(-13 576.8 102.3)" fill="#0d0d0d"/>
<ellipse cx="578.6" cy="102.4" rx="12.7" ry="20.8" transform="rotate(-13 578.6 102.4)" fill="#151515" stroke="#7d1522" stroke-width="0.5"/>
<!-- label -->
<path d="M546 114.2L561.6 118.8L561.2 123L546.3 118.5Z" fill="#ececec"/>
<path d="M549 116.9l9.5 2.8" stroke="#b43a3a" stroke-width="0.9" fill="none"/>
<!-- buttons -->
<circle cx="575.8" cy="112.2" r="1.25" fill="#8e8e8e"/><circle cx="581.2" cy="112.8" r="1.3" fill="#9a9a9a"/><circle cx="586.3" cy="113.8" r="1.25" fill="#8e8e8e"/>
<circle cx="581.6" cy="118.4" r="0.6" fill="#aaa"/>
<path d="M578.6 86.6l1.7 2.5 1.7-2.5" stroke="#c8c8c8" stroke-width="0.7" fill="none"/>
<path d="M577.3 91.3l7 1.6" stroke="#777" stroke-width="0.7" fill="none"/>
</g>

</svg></body></html>
